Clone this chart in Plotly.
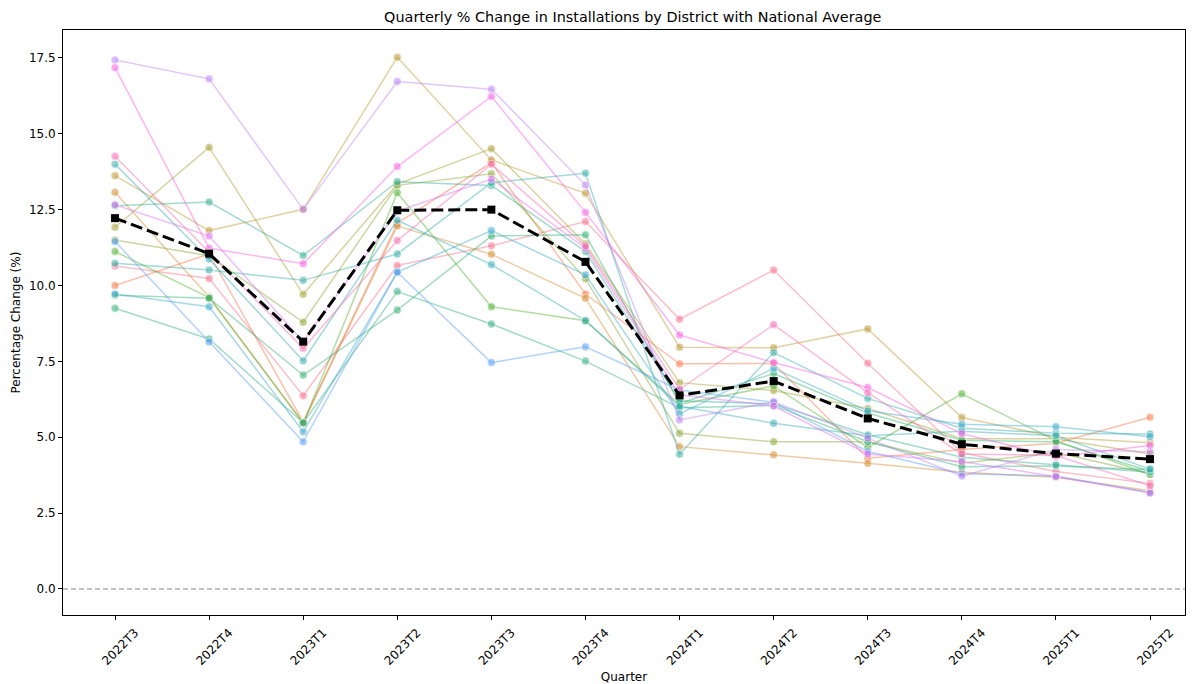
import math
import plotly.graph_objects as go

# ---------------------------------------------------------------- data
quarters = ["2022T3", "2022T4", "2023T1", "2023T2", "2023T3", "2023T4",
            "2024T1", "2024T2", "2024T3", "2024T4", "2025T1", "2025T2"]

d01 = [10.64, 10.23, 6.37, 10.66, 11.31, 12.11, 8.89, 10.51, 7.44, 4.49, 3.87, 3.48]
d02 = [10.00, 11.04, 5.50, 12.05, 14.05, 9.72, 7.42, 7.43, 4.31, 4.60, 4.80, 5.66]
d03 = [13.07, 9.62, 5.48, 11.96, 11.03, 9.58, 4.69, 4.42, 4.14, 3.85, 3.68, 3.24]
d04 = [13.62, 11.81, 12.51, 17.52, 14.14, 13.04, 7.97, 7.95, 8.57, 5.65, 5.00, 4.82]
d05 = [11.92, 14.55, 9.71, 13.34, 14.51, 11.37, 6.80, 6.54, 5.95, 4.95, 4.95, 4.45]
d06 = [11.50, 10.98, 8.79, 13.30, 13.68, 10.22, 5.13, 4.85, 4.85, 4.14, 4.50, 3.80]
d07 = [11.12, 9.60, 5.46, 13.06, 9.30, 8.84, 6.08, 6.69, 4.67, 6.43, 4.89, 3.77]
d08 = [9.68, 9.58, 7.05, 9.19, 11.63, 11.67, 6.12, 7.10, 5.80, 4.90, 4.85, 3.88]
d09 = [9.25, 8.24, 5.48, 9.80, 8.73, 7.51, 5.97, 6.05, 4.85, 4.03, 4.05, 3.93]
d10 = [12.63, 12.75, 10.99, 13.42, 13.30, 11.12, 6.20, 6.10, 5.08, 4.34, 4.09, 3.85]
d11 = [10.73, 10.51, 10.17, 11.04, 13.39, 13.70, 4.44, 7.79, 6.28, 5.30, 5.13, 5.11]
d12 = [14.00, 10.87, 7.52, 12.15, 10.69, 8.84, 6.02, 5.46, 5.05, 5.20, 5.05, 3.95]
d13 = [9.72, 9.30, 5.18, 10.44, 11.81, 10.35, 5.77, 7.27, 5.87, 5.43, 5.35, 5.02]
d14 = [11.45, 8.14, 4.85, 10.44, 7.46, 7.98, 6.56, 6.15, 4.53, 3.80, 3.72, 3.18]
d15 = [17.43, 16.81, 12.51, 16.72, 16.47, 13.31, 5.57, 6.17, 4.97, 3.72, 4.60, 4.52]
d16 = [12.66, 11.63, 8.15, 12.45, 13.51, 11.23, 6.40, 6.03, 4.45, 4.20, 3.70, 3.16]
d17 = [17.18, 11.23, 10.72, 13.92, 16.23, 12.41, 8.37, 7.46, 6.64, 5.12, 4.36, 4.73]
d18 = [14.26, 11.08, 7.93, 11.48, 14.00, 11.30, 6.58, 8.71, 6.47, 4.45, 4.40, 3.40]

national_avg = [12.22, 11.05, 8.15, 12.48, 12.50, 10.78, 6.38, 6.85, 5.62, 4.77, 4.46, 4.28]

districts = [d01, d02, d03, d04, d05, d06, d07, d08, d09,
             d10, d11, d12, d13, d14, d15, d16, d17, d18]
district_names = [f"District {i + 1}" for i in range(len(districts))]

# hue (degrees) used for each district in the HUSL wheel
district_hues = [3, 23, 43, 63, 83, 103, 123, 143, 153,
                 168, 185, 203, 225, 250, 284, 298, 315, 343]


# ---------------------------------------------------------------- HUSL colours
_M = [[3.2406, -1.5372, -0.4986],
      [-0.9689, 1.8758, 0.0415],
      [0.0557, -0.2040, 1.0570]]
_REF_U, _REF_V = 0.19784, 0.46834
_LAB_E, _LAB_K = 0.008856, 903.3


def _max_chroma(L, H):
    hrad = math.radians(H)
    sinH, cosH = math.sin(hrad), math.cos(hrad)
    sub1 = (L + 16) ** 3 / 1560896.0
    sub2 = sub1 if sub1 > _LAB_E else L / _LAB_K
    result = float("inf")
    for m1, m2, m3 in _M:
        top = (0.99915 * m1 + 1.05122 * m2 + 1.14460 * m3) * sub2
        rbottom = 0.86330 * m3 - 0.17266 * m2
        lbottom = 0.12949 * m3 - 0.38848 * m1
        bottom = (rbottom * sinH + lbottom * cosH) * sub2
        for t in (0.0, 1.0):
            C = L * (top - 1.05122 * t) / (bottom + 0.17266 * sinH * t)
            if 0 < C < result:
                result = C
    return result


def husl_rgb(h, s=0.9, l=0.65):
    H, S, L = h, s * 99, l * 99
    C = _max_chroma(L, H) / 100.0 * S
    U = math.cos(math.radians(H)) * C
    V = math.sin(math.radians(H)) * C
    t = (L + 16) / 116.0
    Y = t ** 3 if t ** 3 > _LAB_E else (116 * t - 16) / _LAB_K
    vu = U / (13 * L) + _REF_U
    vv = V / (13 * L) + _REF_V
    X = -(9 * Y * vu) / ((vu - 4) * vv - vu * vv)
    Z = (9 * Y - 15 * vv * Y - vv * X) / (3 * vv)
    out = []
    for row in _M:
        c = row[0] * X + row[1] * Y + row[2] * Z
        c = 12.92 * c if c <= 0.0031308 else 1.055 * c ** (1 / 2.4) - 0.055
        out.append(int(round(min(max(c, 0.0), 1.0) * 255)))
    return out


def rgba(rgb, a):
    return f"rgba({rgb[0]},{rgb[1]},{rgb[2]},{a})"


# ---------------------------------------------------------------- figure
fig = go.Figure()

for name, values, hue in zip(district_names, districts, district_hues):
    rgb = husl_rgb(hue)
    fig.add_trace(go.Scatter(
        x=quarters, y=values, name=name, mode="lines+markers",
        line=dict(color=rgba(rgb, 0.45), width=1.5),
        marker=dict(symbol="circle", size=8, color=rgba(rgb, 0.55),
                    line=dict(color="rgba(255,255,255,0.6)", width=1)),
        showlegend=False,
    ))

fig.add_trace(go.Scatter(
    x=quarters, y=national_avg, name="National Average", mode="lines+markers",
    line=dict(color="black", width=3, dash="12px,5px"),
    marker=dict(symbol="square", size=8, color="black"),
    showlegend=False,
))

fig.add_hline(y=0, line=dict(color="rgba(110,110,110,0.85)", width=1, dash="5px,3px"))

axis_common = dict(
    showline=True, linecolor="black", linewidth=1, mirror=True,
    ticks="outside", ticklen=4, tickcolor="black", tickwidth=1,
    showgrid=False, zeroline=False, automargin=False,
    tickfont=dict(family="DejaVu Sans", size=12, color="black"),
)

fig.update_layout(
    width=1203, height=684,
    paper_bgcolor="white", plot_bgcolor="white",
    margin=dict(l=63, r=18, t=30, b=69),
    title=dict(text="Quarterly % Change in Installations by District with National Average",
               x=0.526, xanchor="center", y=0.975, yanchor="middle",
               font=dict(family="DejaVu Sans", size=14.4, color="black")),
    xaxis=dict(**axis_common, type="category", range=[-0.553, 11.372],
               tickangle=-45, ticklabelshift=20, ticklabelstandoff=1,
               title=dict(text="Quarter",
                          font=dict(family="DejaVu Sans", size=12, color="black"))),
    yaxis=dict(**axis_common, range=[-0.857, 18.42],
               tickvals=[0, 2.5, 5, 7.5, 10, 12.5, 15, 17.5], tickformat=".1f"),
    annotations=[dict(
        text="Percentage Change (%)", textangle=-90,
        xref="paper", yref="paper", x=-0.0419, y=0.5,
        xanchor="center", yanchor="middle", showarrow=False,
        font=dict(family="DejaVu Sans", size=12, color="black"),
    )],
)

fig.write_html("out.html")
